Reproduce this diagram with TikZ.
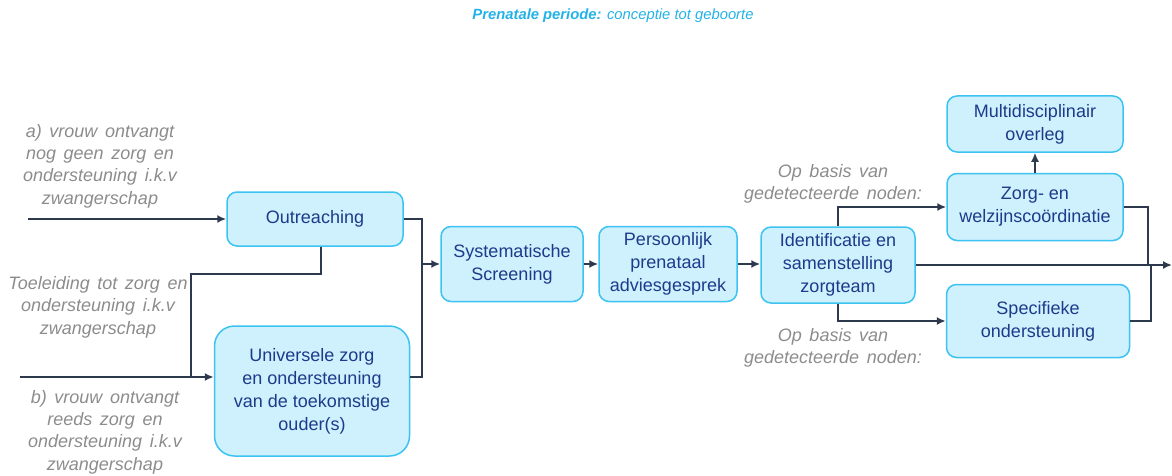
\documentclass[tikz,border=0pt]{standalone}
\usepackage{fontspec}
\setmainfont{Liberation Sans}
\usetikzlibrary{arrows.meta, positioning}
\usepackage{xcolor}
\definecolor{boxfill}{RGB}{206,241,253}
\definecolor{boxline}{RGB}{60,195,242}
\definecolor{boxtext}{RGB}{30,58,138}
\definecolor{linegray}{RGB}{45,58,78}
\definecolor{annotgray}{RGB}{140,140,140}
\definecolor{titleblue}{RGB}{35,178,232}
\newcommand\annotfont{\fontsize{9}{11.2}\selectfont\itshape\spaceskip=0.42em\relax}

\begin{document}
\begin{tikzpicture}[x=0.5pt,y=-0.5pt,->,>={Latex[length=4.5pt,width=4pt]},draw=linegray,line width=0.85pt]
    \tikzstyle{zorgbox}=[rectangle,rounded corners=5pt,draw=boxline,fill=boxfill,text=boxtext,align=center,font=\fontsize{9}{11.5}\selectfont,inner sep=1pt,line width=0.75pt]
    \tikzstyle{annot}=[text=annotgray,align=center,font=\annotfont]

    \useasboundingbox (0,0) rectangle (1172,476);

    % titel
    \node[text=titleblue,font=\fontsize{7.4}{9}\selectfont\itshape] (titel) at (613,16)
        {\textbf{Prenatale periode:} conceptie tot geboorte};

    % instroom
    \node[zorgbox,minimum width=88pt,minimum height=27pt] (out) at (315,219) {Outreaching};
    \node[zorgbox,rounded corners=10pt,minimum width=97.5pt,minimum height=65pt] (uni) at (312,391)
        {Universele zorg\\en ondersteuning\\van de toekomstige\\ouder(s)};

    \node[annot] (a) at (100,166) {a) vrouw ontvangt\\nog geen zorg en\\ondersteuning i.k.v\\zwangerschap};
    \node[annot] (toe) at (98,307) {Toeleiding tot zorg en\\ondersteuning i.k.v\\zwangerschap};
    \node[annot] (b) at (105,432) {b) vrouw ontvangt\\reeds zorg en\\ondersteuning i.k.v\\zwangerschap};

    % hoofdlijn
    \node[zorgbox,minimum width=71pt,minimum height=37.5pt] (scr) at (512,264) {Systematische\\Screening};
    \node[zorgbox,minimum width=69pt,minimum height=37.5pt] (pers) at (668,264) {Persoonlijk\\prenataal\\adviesgesprek};
    \node[zorgbox,minimum width=77pt,minimum height=38pt] (id) at (838,265) {Identificatie en\\samenstelling\\zorgteam};

    % vervolg
    \node[zorgbox,minimum width=88pt,minimum height=28pt] (multi) at (1035,124) {Multidisciplinair\\overleg};
    \node[zorgbox,minimum width=88pt,minimum height=33.5pt] (zorg) at (1035,207) {Zorg- en\\welzijnscoördinatie};
    \node[zorgbox,minimum width=91.5pt,minimum height=36.5pt] (spec) at (1038,321) {Specifieke\\ondersteuning};

    \node[annot] (noden1) at (833,184) {Op basis van\\gedetecteerde noden:};
    \node[annot] (noden2) at (833,348) {Op basis van\\gedetecteerde noden:};

    % vrije eindpunten en knikken
    \coordinate (in-a) at (28,219);
    \coordinate (in-b) at (20,377);
    \coordinate (m1) at (422,264);
    \coordinate (tl) at (191,274);
    \coordinate (tb) at (191,377);
    \coordinate (j1) at (1148,265);
    \coordinate (j2) at (1151,265);
    \coordinate (eind) at (1172,265);

    \draw (in-a) -- (out.west);
    \draw (in-b) -- (uni.west |- in-b);
    \draw[-] ([xshift=3pt]out.south) |- (tl) -- (tb);
    \draw[-] (out.east) -| (m1);
    \draw[-] (uni.east |- in-b) -| (m1);
    \draw (m1) -- (scr.west);
    \draw (scr) -- (pers);
    \draw (pers.east) -- (id.west |- pers.east);

    \draw (id.north) |- (zorg.west);
    \draw (id.south) |- (spec.west);
    \draw (id.east) -- (eind);
    \draw[-] (zorg.east) -| (j1);
    \draw[-] (spec.east) -| (j2);
    \draw (zorg.north) -- (multi.south);
\end{tikzpicture}
\end{document}
